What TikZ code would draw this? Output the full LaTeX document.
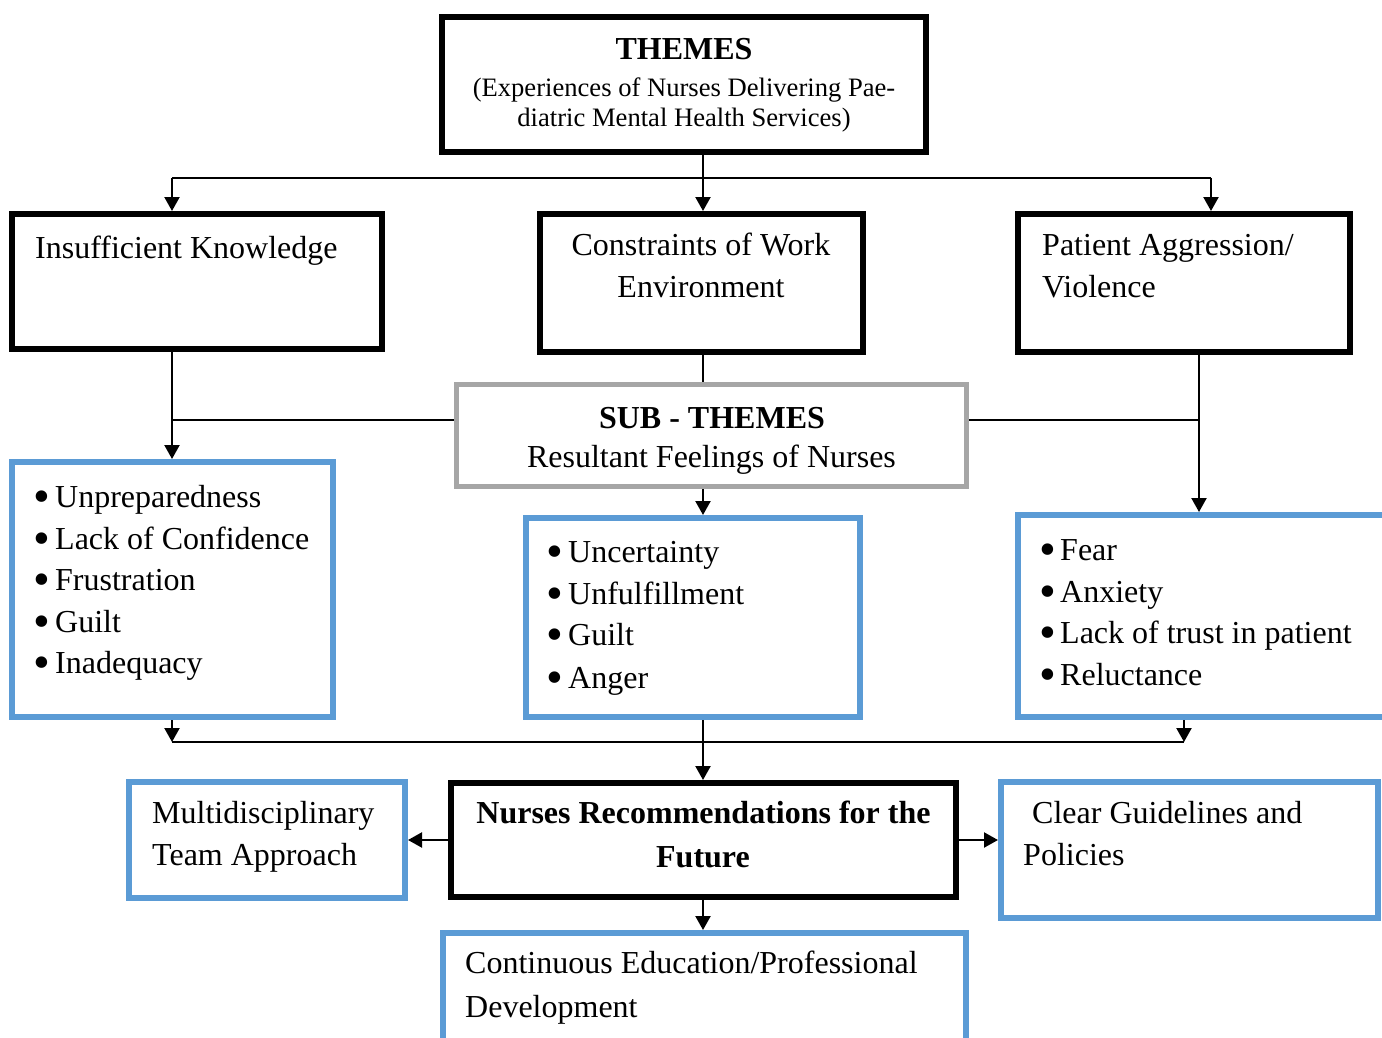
\documentclass[tikz,border=0pt]{standalone}
\usepackage{fontspec}
\setmainfont{Liberation Serif}
\usetikzlibrary{arrows.meta}
\definecolor{boxblue}{HTML}{5B9BD5}
\definecolor{boxgrey}{HTML}{A6A6A6}
\begin{document}
\begin{tikzpicture}[x=1pt,y=-1pt,
  blackbox/.style={draw=black,line width=6pt,rectangle,inner sep=0pt,fill=white},
  bluebox/.style={draw=boxblue,line width=6pt,rectangle,inner sep=0pt,fill=white},
  greybox/.style={draw=boxgrey,line width=5pt,rectangle,inner sep=0pt,fill=white},
  conn/.style={line width=2.2pt,draw=black},
  arr/.style={conn,-{Triangle[length=14pt,width=15pt]}},
  txt/.style={inner sep=0pt,anchor=base west,font=\fontsize{32}{40}\selectfont},
  ctxt/.style={inner sep=0pt,anchor=base,font=\fontsize{32}{40}\selectfont},
  btxt/.style={inner sep=0pt,anchor=base,font=\fontsize{32}{40}\selectfont\bfseries},
  stxt/.style={inner sep=0pt,anchor=base,font=\fontsize{26.6}{32}\selectfont}
]
\useasboundingbox (0,0) rectangle (1382,1038);
\clip (0,0) rectangle (1382,1038);
\fill[white] (0,0) rectangle (1382,1038);
\newcommand{\bul}[1]{\makebox[#1][l]{\hspace*{-3.5pt}\smash{\raisebox{-5.5pt}{\fontsize{48}{48}\selectfont\textbullet}}}}

% ---- boxes ----
\node[blackbox,minimum width=484pt,minimum height=135pt] (themes) at (684,84.5) {};
\node[blackbox,minimum width=370pt,minimum height=135pt] (ik) at (197,281.5) {};
\node[blackbox,minimum width=323pt,minimum height=138pt] (cwe) at (701.5,283) {};
\node[blackbox,minimum width=332pt,minimum height=138pt] (pav) at (1184,283) {};
\node[greybox,minimum width=510pt,minimum height=102pt] (sub) at (711.5,435.5) {};
\node[bluebox,minimum width=321pt,minimum height=255pt] (bl) at (172.5,589.5) {};
\node[bluebox,minimum width=334pt,minimum height=199pt] (bm) at (693,617.5) {};
\node[bluebox,minimum width=377pt,minimum height=202pt] (br) at (1206.5,616) {};
\node[blackbox,minimum width=505pt,minimum height=114pt] (nrf) at (703.5,840) {};
\node[bluebox,minimum width=276pt,minimum height=116pt] (mta) at (267,840) {};
\node[bluebox,minimum width=377pt,minimum height=136pt] (cgp) at (1189.5,850) {};
\node[bluebox,minimum width=523pt,minimum height=117pt] (ced) at (704.5,991.5) {};

% ---- junction coordinates ----
\coordinate (t1) at (172,178);
\coordinate (t2) at (703,178);
\coordinate (t3) at (1211,178);
\coordinate (s1) at (172,420);
\coordinate (r1) at (1199,420);
\coordinate (b1) at (172,742);
\coordinate (b3) at (1184,742);

% ---- connectors ----
\draw[conn] (themes.south -| t2) -- (t2);
\draw[conn] (t1) -- (t3);
\draw[arr] (t1) -- (t1 |- ik.north);
\draw[arr] (t2) -- (t2 |- cwe.north);
\draw[arr] (t3) -- (t3 |- pav.north);
\draw[arr] (ik.south -| s1) -- (bl.north -| s1);
\draw[conn] (s1) -- (s1 -| sub.west);
\draw[conn] (cwe.south -| t2) -- (sub.north -| t2);
\draw[conn] (sub.east |- r1) -- (r1);
\draw[arr] (pav.south -| r1) -- (br.north -| r1);
\draw[arr] (sub.south -| t2) -- (bm.north -| t2);
\draw[conn] (b1) -- (b3);
\draw[arr] (bl.south -| b1) -- (b1);
\draw[arr] (br.south -| b3) -- (b3);
\draw[arr] (bm.south -| t2) -- (nrf.north -| t2);
\draw[arr] (nrf.west) -- (mta.east);
\draw[arr] (nrf.east) -- (nrf.east -| cgp.west);
\draw[arr] (nrf.south -| t2) -- (ced.north -| t2);

% ---- texts ----
\node[btxt] (themesT) at (684,60) {THEMES};
\node[stxt] (themesS1) at (684,97) {(Experiences of Nurses Delivering Pae-};
\node[stxt] (themesS2) at (684,127) {diatric Mental Health Services)};

\node[txt] (ikT) at (35,258) {Insufficient Knowledge};
\node[ctxt] (cweT1) at (701,255) {Constraints of Work};
\node[ctxt] (cweT2) at (701,297) {Environment};
\node[txt] (pavT1) at (1042,255) {Patient Aggression/};
\node[txt] (pavT2) at (1042,297) {Violence};

\node[btxt] (subT1) at (712,428) {SUB - THEMES};
\node[ctxt] (subT2) at (711.5,467) {Resultant Feelings of Nurses};

\node[txt] (bl1) at (37,507) {\bul{18pt}Unpreparedness};
\node[txt] (bl2) at (37,549) {\bul{18pt}Lack of Confidence};
\node[txt] (bl3) at (37,590) {\bul{18pt}Frustration};
\node[txt] (bl4) at (37,632) {\bul{18pt}Guilt};
\node[txt] (bl5) at (37,673) {\bul{18pt}Inadequacy};

\node[txt] (bm1) at (550,562) {\bul{18pt}Uncertainty};
\node[txt] (bm2) at (550,604) {\bul{18pt}Unfulfillment};
\node[txt] (bm3) at (550,645) {\bul{18pt}Guilt};
\node[txt] (bm4) at (550,688) {\bul{18pt}Anger};

\node[txt] (br1) at (1043,560) {\bul{17pt}Fear};
\node[txt] (br2) at (1043,602) {\bul{17pt}Anxiety};
\node[txt] (br3) at (1043,643) {\bul{17pt}Lack of trust in patient};
\node[txt] (br4) at (1043,685) {\bul{17pt}Reluctance};

\node[btxt] (nrfT1) at (703.5,823) {Nurses Recommendations for the};
\node[btxt] (nrfT2) at (703,867) {Future};
\node[txt] (mtaT1) at (152,823) {Multidisciplinary};
\node[txt] (mtaT2) at (152,865) {Team Approach};
\node[txt] (cgpT1) at (1032,823) {Clear Guidelines and};
\node[txt] (cgpT2) at (1023,865) {Policies};
\node[txt] (cedT1) at (465,973) {Continuous Education/Professional};
\node[txt] (cedT2) at (465,1017) {Development};
\end{tikzpicture}
\end{document}
